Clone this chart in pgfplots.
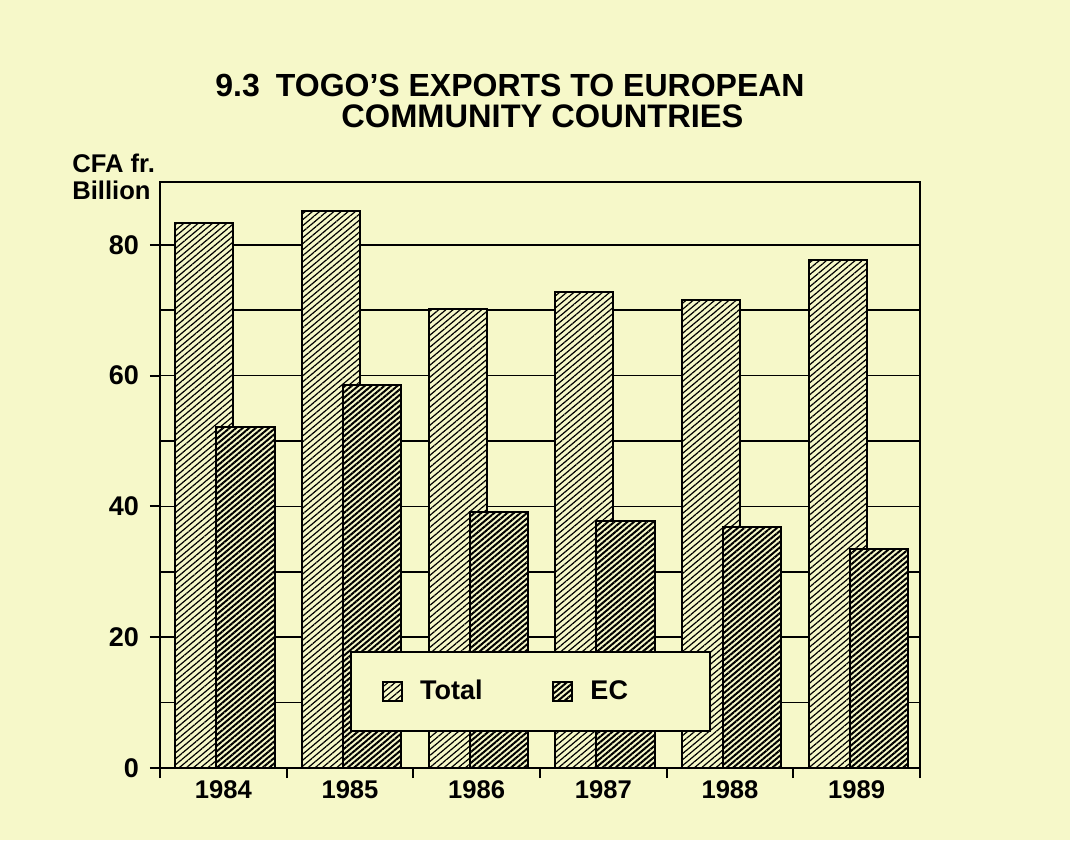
\documentclass[border=0pt]{standalone}
\usepackage{pgfplots}
\pgfplotsset{compat=1.18}
\usepackage{fontspec}
\setmainfont{Liberation Sans}
\usetikzlibrary{patterns.meta}
\definecolor{bg}{RGB}{246,248,201}

\begin{document}
\begin{tikzpicture}
\fill[bg] (-80pt,-36pt) rectangle (455pt,384pt);
\path[use as bounding box] (-80pt,-36pt) rectangle (455pt,384pt);
\begin{axis}[
  scale only axis, width=380pt, height=293pt,
  xmin=-0.5, xmax=5.5, ymin=0, ymax=89.6,
  axis line style={line width=1pt},
  tick pos=left,
  ybar, bar width=0.46,
  xtick={0,...,5}, xticklabels={1984,1985,1986,1987,1988,1989},
  major x tick style={draw=none},
  minor xtick={-0.5,0.5,...,5.5},
  minor x tick style={draw=black, line width=1pt},
  ytick={0,20,...,80}, minor ytick={10,30,50,70},
  minor y tick style={draw=none},
  major y tick style={draw=black, line width=1pt},
  tick align=outside, major tick length=5pt, minor tick length=5pt,
  ymajorgrids, yminorgrids,
  major grid style={black, line width=0.8pt},
  minor grid style={black, line width=0.8pt},
  /pgf/number format/assume math mode=true,
  xticklabel style={font=\fontsize{12.8}{15}\bfseries, yshift=2pt},
  yticklabel style={font=\fontsize{13.5}{16}\bfseries, xshift=-2pt},
  legend image code/.code={\draw[#1] (0pt,-4.75pt) rectangle (9.5pt,4.75pt);},
  legend columns=2,
  legend style={at={(0.25,0.0614)}, anchor=south west, draw=black, line width=1pt,
    fill=bg, inner xsep=15.3pt, inner ysep=12.2pt, font=\fontsize{13.5}{16}\bfseries,
    /tikz/every odd column/.append style={column sep=6.8pt},
    /tikz/every even column/.append style={column sep=32.6pt}},
]
\addplot[draw=black, line width=1pt, fill=bg, bar shift=-0.15,
  postaction={pattern={Lines[angle=40,distance=2.3pt,line width=0.6pt]}}]
  coordinates {(0,83.4) (1,85.2) (2,70.2) (3,72.8) (4,71.6) (5,77.6)};
\addplot[draw=black, line width=1pt, fill=bg, bar shift=0.175,
  postaction={pattern={Lines[angle=40,distance=2.1pt,line width=1pt]}}]
  coordinates {(0,52.2) (1,58.5) (2,39.2) (3,37.8) (4,36.9) (5,33.5)};
\addlegendentry{Total}
\addlegendentry{EC\hspace*{23.5pt}}
\end{axis}
\node[anchor=base west, inner sep=0pt, font=\fontsize{16}{19}\bfseries] at (27.5pt,335.5pt) {9.3\hspace{8pt}TOGO'S EXPORTS TO EUROPEAN};
\node[anchor=base west, inner sep=0pt, font=\fontsize{16.3}{19}\bfseries] at (90.5pt,320pt) {COMMUNITY COUNTRIES};
\node[anchor=base west, font=\fontsize{12.8}{15}\bfseries, inner sep=0pt] at (-44pt,297.7pt) {CFA fr.};
\node[anchor=base west, font=\fontsize{12.8}{15}\bfseries, inner sep=0pt] at (-44pt,284.4pt) {Billion};
\end{tikzpicture}
\end{document}
